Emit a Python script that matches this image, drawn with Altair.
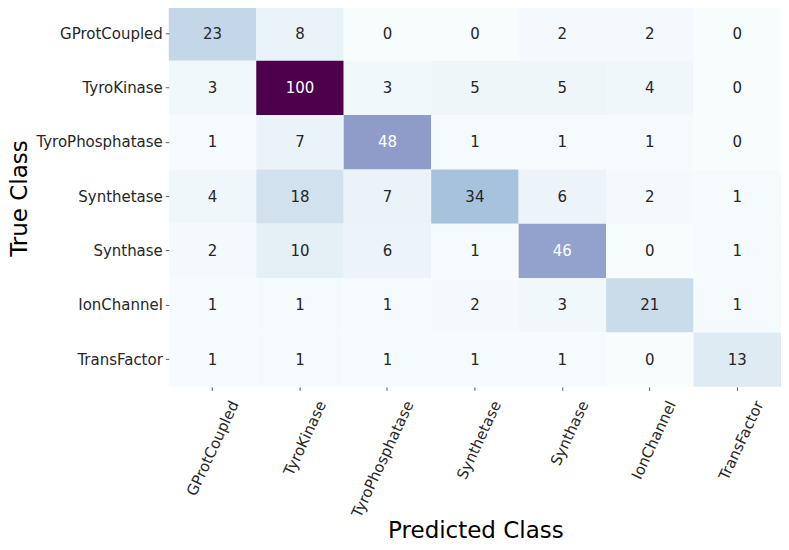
import altair as alt
import pandas as pd

classes = ["GProtCoupled", "TyroKinase", "TyroPhosphatase", "Synthetase",
           "Synthase", "IonChannel", "TransFactor"]

row_gprot = [23, 8, 0, 0, 2, 2, 0]
row_tyrokinase = [3, 100, 3, 5, 5, 4, 0]
row_tyrophos = [1, 7, 48, 1, 1, 1, 0]
row_synthetase = [4, 18, 7, 34, 6, 2, 1]
row_synthase = [2, 10, 6, 1, 46, 0, 1]
row_ionchannel = [1, 1, 1, 2, 3, 21, 1]
row_transfactor = [1, 1, 1, 1, 1, 0, 13]

rows = [row_gprot, row_tyrokinase, row_tyrophos, row_synthetase,
        row_synthase, row_ionchannel, row_transfactor]

records = []
for t, vals in zip(classes, rows):
    for p, v in zip(classes, vals):
        records.append({"true": t, "pred": p, "value": v})
df = pd.DataFrame(records)

bupu = ["#f7fcfd", "#e0ecf4", "#bfd3e6", "#9ebcda", "#8c96c6",
        "#8c6bb1", "#88419d", "#810f7c", "#4d004b"]
stops = [0, 12.5, 25, 37.5, 50, 62.5, 75, 87.5, 100]

FONT = "DejaVu Sans"

x_enc = alt.X("pred:N", sort=classes, scale=alt.Scale(paddingInner=0, paddingOuter=0),
              axis=alt.Axis(title="Predicted Class", labelAngle=-65, labelAlign="right",
                            labelBaseline="middle", labelOffset=22, labelPadding=11,
                            labelFontSize=15, labelFont=FONT, labelColor="#262626",
                            titleFontSize=23, titleFont=FONT, titleFontWeight="normal",
                            titleColor="#000000", titleX=307, titleY=151,
                            titleAlign="center", titleBaseline="alphabetic",
                            tickSize=3.5, tickWidth=0.8, tickColor="#333333",
                            domain=False, labelLimit=300))
y_enc = alt.Y("true:N", sort=classes, scale=alt.Scale(paddingInner=0, paddingOuter=0),
              axis=alt.Axis(title="True Class", labelFontSize=15, labelFont=FONT,
                            labelColor="#262626", labelPadding=3,
                            titleFontSize=23, titleFont=FONT, titleFontWeight="normal",
                            titleColor="#000000", titleX=-142, titleY=192,
                            titleAngle=-90, titleAlign="center", titleBaseline="alphabetic",
                            tickSize=3.5, tickWidth=0.8, tickColor="#333333",
                            domain=False, labelLimit=300))

base = alt.Chart(df).encode(x=x_enc, y=y_enc)

rect = base.mark_rect().encode(
    color=alt.Color("value:Q", scale=alt.Scale(domain=stops, range=bupu,
                                                 interpolate="rgb"), legend=None)
)

text = base.mark_text(font=FONT, fontSize=15).encode(
    text="value:Q",
    color=alt.condition(alt.datum.value > 40, alt.value("#ffffff"), alt.value("#262626"))
)

chart = (rect + text).properties(
    width=613, height=381,
    autosize=alt.AutoSizeParams(type="none"),
    padding={"left": 161, "top": -2, "right": 0, "bottom": 155},
).configure_view(stroke=None)

chart.save("out.html", embed_options={"renderer": "svg", "actions": False})
